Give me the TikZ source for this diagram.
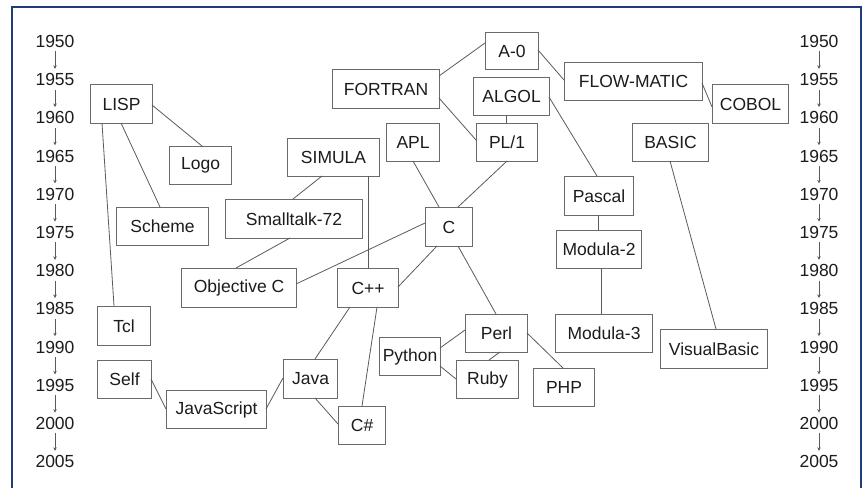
\documentclass[tikz,border=0pt]{standalone}
\usepackage{fontspec}
\setmainfont{Liberation Sans}
\usetikzlibrary{arrows.meta}
\definecolor{framecol}{HTML}{1F3D7A}
\definecolor{boxgray}{HTML}{6A6A6A}
\definecolor{linkgray}{HTML}{5A5A5A}
\definecolor{txt}{HTML}{1C1C1C}
\tikzset{
  lang/.style={draw=boxgray, line width=1.1pt, fill=white, inner sep=0pt,
    anchor=north west, text=txt, font=\fontsize{17.5}{20}\selectfont},
  link/.style={draw=linkgray, line width=0.8pt},
  yearlbl/.style={text=txt, inner sep=0pt, font=\fontsize{17.5}{20}\selectfont},
  yeararrow/.style={draw=linkgray, line width=0.7pt, -{Stealth[length=3.5pt,width=3.5pt]}}
}
% \lbox{name}{left}{top}{width}{height}{label} -- box given by its top-left corner
\newcommand{\lbox}[6]{\node[lang, minimum width=#4pt, minimum height=#5pt] (#1) at (#2,-#3) {#6};}
\begin{document}
\begin{tikzpicture}[x=1pt,y=1pt]
\useasboundingbox (0,0) rectangle (865,-488);
% frame, open at the bottom
\coordinate (fbl) at (12,-488);
\coordinate (ftl) at (12,-7);
\coordinate (ftr) at (861,-7);
\coordinate (fbr) at (861,-488);
\draw[framecol, line width=1.8pt] (fbl) -- (ftl) -- (ftr) -- (fbr);

% time scales on both sides
\foreach \yr [count=\i from 0] in {1950,1955,1960,1965,1970,1975,1980,1985,1990,1995,2000,2005} {
  \node[yearlbl] (L\i) at (55,{-41.5-38.2*\i}) {\yr};
  \node[yearlbl] (R\i) at (819,{-41.5-38.2*\i}) {\yr};
}
\foreach \i [evaluate=\i as \j using int(\i+1)] in {0,...,10} {
  \draw[yeararrow] ([yshift=-3.5pt]L\i.south) -- ([yshift=4.5pt]L\j.north);
  \draw[yeararrow] ([yshift=-3.5pt]R\i.south) -- ([yshift=4.5pt]R\j.north);
}

% languages
\lbox{LISP}{90}{84}{62}{39}{LISP}
\lbox{Logo}{169}{146}{62}{38}{Logo}
\lbox{Scheme}{116}{207}{92}{38}{Scheme}
\lbox{Tcl}{97}{306}{53}{39}{Tcl}
\lbox{Self}{97}{360}{54}{38}{Self}
\lbox{JavaScript}{166}{390}{100}{38}{JavaScript}
\lbox{ObjC}{181}{268}{115}{39}{Objective C}
\lbox{Smalltalk}{225}{199}{137}{39}{Smalltalk-72}
\lbox{SIMULA}{287}{138}{92}{38}{SIMULA}
\lbox{FORTRAN}{332}{69}{107}{39}{FORTRAN}
\lbox{Azero}{485}{32}{53}{37}{A-0}
\lbox{ALGOL}{473}{77}{76}{38}{ALGOL}
\lbox{PLone}{476}{123}{61}{38}{PL/1}
\lbox{APL}{386}{123}{53}{38}{APL}
\lbox{C}{425}{207}{47}{39}{C}
\lbox{Cpp}{337}{268}{61}{39}{C++}
\lbox{Java}{283}{359}{54}{39}{Java}
\lbox{Csharp}{338}{406}{47}{38}{C\#}
\lbox{Python}{379}{337}{61}{38}{Python}
\lbox{Perl}{465}{314}{62}{38}{Perl}
\lbox{Ruby}{456}{360}{62}{38}{Ruby}
\lbox{PHP}{533}{368}{61}{38}{PHP}
\lbox{ModulaIII}{555}{314}{97}{38}{Modula-3}
\lbox{VisualBasic}{660}{329}{107}{39}{VisualBasic}
\lbox{ModulaII}{556}{230}{85}{38}{Modula-2}
\lbox{Pascal}{564}{176}{69}{39}{Pascal}
\lbox{FLOWMATIC}{564}{62}{138}{38}{FLOW-MATIC}
\lbox{COBOL}{712}{84}{76}{39}{COBOL}
\lbox{BASIC}{632}{123}{76}{38}{BASIC}

% influences; each end is a point on the box outline, offset from its top-left corner
\draw[link] ([shift={(62,-21)}]LISP.north west) -- ([shift={(33,0)}]Logo.north west);
\draw[link] ([shift={(31,-39)}]LISP.north west) -- ([shift={(44,0)}]Scheme.north west);
\draw[link] ([shift={(12,-39)}]LISP.north west) -- ([shift={(17,0)}]Tcl.north west);
\draw[link] ([shift={(0,-11)}]Azero.north west) -- ([shift={(107,-7)}]FORTRAN.north west);
\draw[link] ([shift={(53,-18)}]Azero.north west) -- ([shift={(0,-18)}]FLOWMATIC.north west);
\draw[link] ([shift={(107,-29)}]FORTRAN.north west) -- ([shift={(0,-17)}]PLone.north west);
\draw[link] ([shift={(33,-38)}]ALGOL.north west) -- ([shift={(30,0)}]PLone.north west);
\draw[link] ([shift={(76,-20)}]ALGOL.north west) -- ([shift={(33,0)}]Pascal.north west);
\draw[link] ([shift={(138,-21)}]FLOWMATIC.north west) -- ([shift={(0,-23)}]COBOL.north west);
\draw[link] ([shift={(38,-38)}]BASIC.north west) -- ([shift={(56,0)}]VisualBasic.north west);
\draw[link] ([shift={(35,-38)}]SIMULA.north west) -- ([shift={(68,0)}]Smalltalk.north west);
\draw[link] ([shift={(81,-38)}]SIMULA.north west) -- ([shift={(31,0)}]Cpp.north west);
\draw[link] ([shift={(27,-38)}]APL.north west) -- ([shift={(14,0)}]C.north west);
\draw[link] ([shift={(31,-38)}]PLone.north west) -- ([shift={(33,0)}]C.north west);
\draw[link] ([shift={(0,-16)}]C.north west) -- ([shift={(115,-16)}]ObjC.north west);
\draw[link] ([shift={(12,-39)}]C.north west) -- ([shift={(61,-19)}]Cpp.north west);
\draw[link] ([shift={(33,-39)}]C.north west) -- ([shift={(31,0)}]Perl.north west);
\draw[link] ([shift={(65,-39)}]Smalltalk.north west) -- ([shift={(55,0)}]ObjC.north west);
\draw[link] ([shift={(34,-39)}]Pascal.north west) -- ([shift={(42,0)}]ModulaII.north west);
\draw[link] ([shift={(45,-38)}]ModulaII.north west) -- ([shift={(46,0)}]ModulaIII.north west);
\draw[link] ([shift={(13,-39)}]Cpp.north west) -- ([shift={(32,0)}]Java.north west);
\draw[link] ([shift={(40,-39)}]Cpp.north west) -- ([shift={(24,0)}]Csharp.north west);
\draw[link] ([shift={(32,-39)}]Java.north west) -- ([shift={(0,-18)}]Csharp.north west);
\draw[link] ([shift={(0,-19)}]Java.north west) -- ([shift={(100,-19)}]JavaScript.north west);
\draw[link] ([shift={(54,-19)}]Self.north west) -- ([shift={(0,-19)}]JavaScript.north west);
\draw[link] ([shift={(61,-11)}]Python.north west) -- ([shift={(0,-16)}]Perl.north west);
\draw[link] ([shift={(61,-29)}]Python.north west) -- ([shift={(0,-19)}]Ruby.north west);
\draw[link] ([shift={(35,-38)}]Perl.north west) -- ([shift={(33,0)}]Ruby.north west);
\draw[link] ([shift={(62,-19)}]Perl.north west) -- ([shift={(30,0)}]PHP.north west);
\end{tikzpicture}
\end{document}
